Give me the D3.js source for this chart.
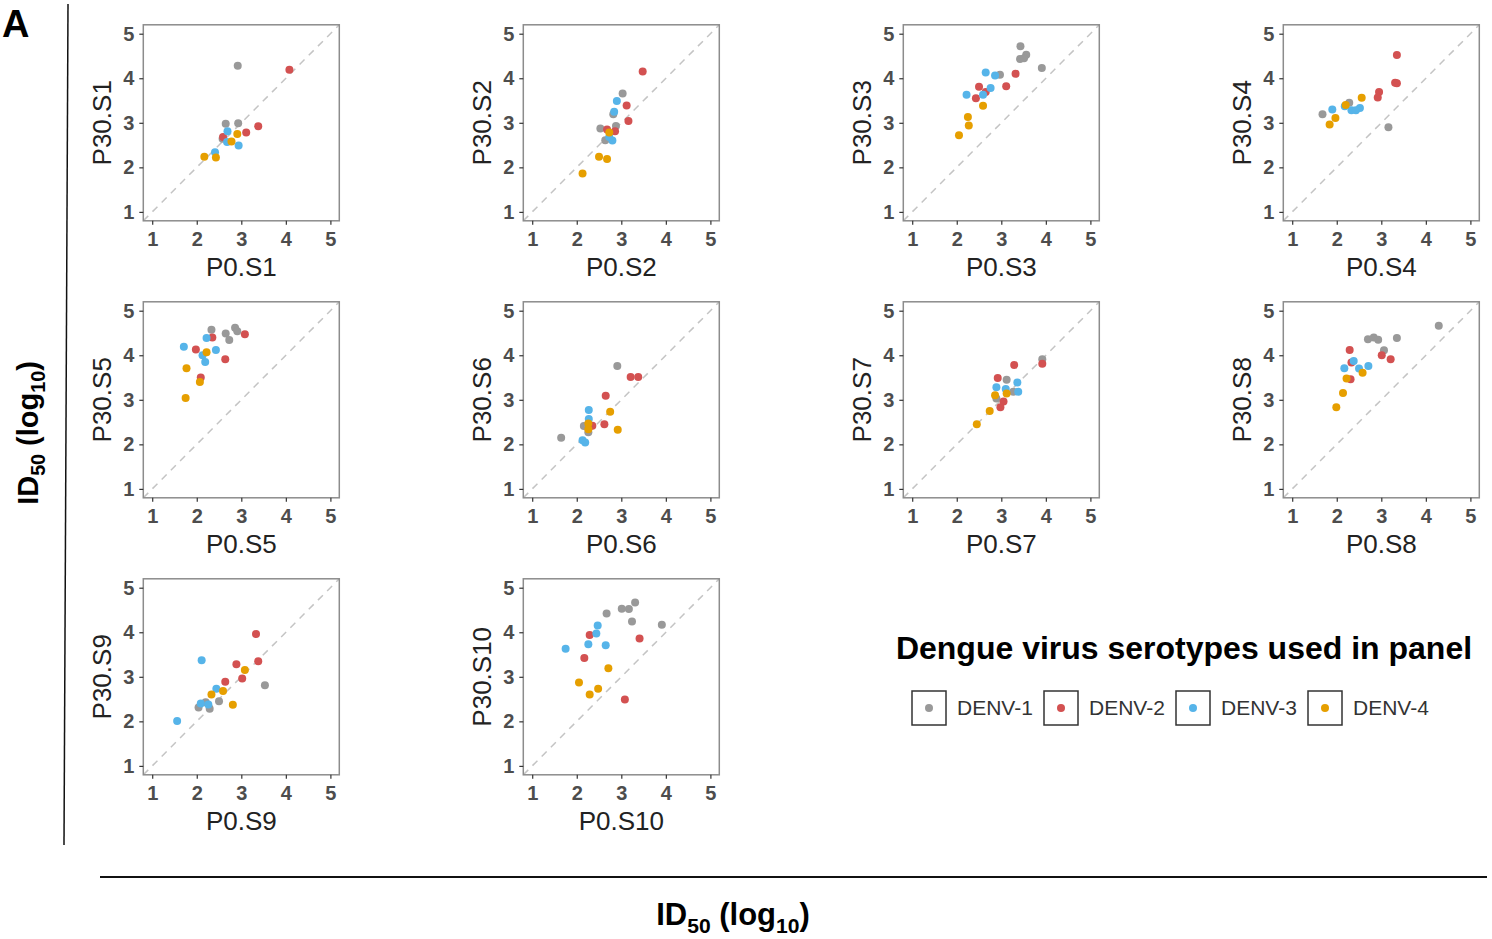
<!DOCTYPE html>
<html>
<head>
<meta charset="utf-8">
<script src="https://cdn.jsdelivr.net/npm/d3@7"></script>
<style>
	body { margin: 0; background: #fff; }
	svg { font-family: 'Liberation Sans', Arial, sans-serif; }
</style>
</head>
<body>
<div id="chart"></div>
<script>
// serotypes + colours
const serotypes = ['DENV-1', 'DENV-2', 'DENV-3', 'DENV-4'];
const seroColors = ['#999999', '#D35151', '#56B4E9', '#E69F00'];

const panelNames = ['S1', 'S2', 'S3', 'S4', 'S5', 'S6', 'S7', 'S8', 'S9', 'S10'];
const axisTicks = [1, 2, 3, 4, 5];

// [serotype index, P0 value, P30 value]
const s1 = [
	[0, 2.92, 4.28], [0, 2.65, 2.98], [0, 2.93, 2.99], [0, 2.58, 2.64],
	[1, 4.08, 4.19], [1, 3.38, 2.92], [1, 3.11, 2.78], [1, 2.59, 2.68],
	[2, 2.69, 2.81], [2, 2.68, 2.57], [2, 2.94, 2.49], [2, 2.41, 2.34],
	[3, 2.91, 2.75], [3, 2.78, 2.58], [3, 2.17, 2.24], [3, 2.43, 2.22],
];
const s2 = [
	[0, 3.03, 3.66], [0, 2.82, 3.19], [0, 2.88, 2.93], [0, 2.53, 2.87], [0, 2.64, 2.61],
	[1, 3.48, 4.15], [1, 3.12, 3.39], [1, 3.16, 3.04], [1, 2.86, 2.81], [1, 2.68, 2.85],
	[2, 2.9, 3.49], [2, 2.84, 3.25], [2, 2.8, 2.6], [2, 2.73, 2.68],
	[3, 2.73, 2.78], [3, 2.5, 2.24], [3, 2.68, 2.19], [3, 2.13, 1.86],
];
const s3 = [
	[0, 3.43, 4.72], [0, 3.56, 4.53], [0, 3.51, 4.45], [0, 3.42, 4.43], [0, 3.91, 4.23], [0, 2.97, 4.08],
	[1, 3.32, 4.1], [1, 3.11, 3.82], [1, 2.5, 3.81], [1, 2.65, 3.69], [1, 2.43, 3.55],
	[2, 2.65, 4.13], [2, 2.86, 4.06], [2, 2.76, 3.78], [2, 2.22, 3.63], [2, 2.59, 3.63],
	[3, 2.59, 3.38], [3, 2.25, 3.13], [3, 2.27, 2.94], [3, 2.05, 2.72],
];
const s4 = [
	[0, 1.68, 3.19], [0, 2.28, 3.45], [0, 3.16, 2.9],
	[1, 3.35, 4.52], [1, 3.31, 3.9], [1, 3.35, 3.89], [1, 2.95, 3.69], [1, 2.92, 3.57],
	[2, 1.9, 3.3], [2, 2.18, 3.37], [2, 2.33, 3.28], [2, 2.52, 3.33], [2, 2.43, 3.28],
	[3, 2.56, 3.56], [3, 2.2, 3.4], [3, 1.97, 3.11], [3, 1.84, 2.96],
];
const s5 = [
	[0, 2.33, 4.57], [0, 2.86, 4.62], [0, 2.91, 4.54], [0, 2.65, 4.49], [0, 2.73, 4.34],
	[1, 3.08, 4.47], [1, 2.35, 4.4], [1, 1.98, 4.13], [1, 2.64, 3.91], [1, 2.09, 3.5],
	[2, 1.71, 4.19], [2, 2.22, 4.39], [2, 2.43, 4.12], [2, 2.13, 4.0], [2, 2.19, 3.85],
	[3, 2.22, 4.07], [3, 1.77, 3.71], [3, 2.07, 3.4], [3, 1.75, 3.04],
];
const s6 = [
	[0, 2.91, 3.76], [0, 1.65, 2.15], [0, 2.16, 2.41], [0, 2.26, 2.27],
	[1, 3.21, 3.51], [1, 3.38, 3.51], [1, 2.65, 3.09], [1, 2.62, 2.45], [1, 2.35, 2.42],
	[2, 2.27, 2.77], [2, 2.27, 2.57], [2, 2.13, 2.09], [2, 2.19, 2.04],
	[3, 2.75, 2.73], [3, 2.26, 2.47], [3, 2.26, 2.34], [3, 2.92, 2.33],
];
const s7 = [
	[0, 3.92, 3.91], [0, 3.12, 3.45], [0, 2.89, 3.03], [0, 3.27, 3.18],
	[1, 3.29, 3.78], [1, 3.92, 3.81], [1, 2.92, 3.49], [1, 3.05, 2.96], [1, 2.98, 2.83],
	[2, 3.36, 3.39], [2, 2.89, 3.28], [2, 3.38, 3.18], [2, 3.1, 3.24],
	[3, 2.86, 3.1], [3, 3.12, 3.14], [3, 2.74, 2.75], [3, 2.45, 2.45],
];
const s8 = [
	[0, 4.29, 4.66], [0, 2.7, 4.36], [0, 2.83, 4.4], [0, 2.93, 4.35], [0, 3.35, 4.39], [0, 3.06, 4.11],
	[1, 2.29, 4.12], [1, 3.01, 4.0], [1, 3.21, 3.91], [1, 2.33, 3.84], [1, 2.31, 3.46],
	[2, 2.38, 3.87], [2, 2.17, 3.71], [2, 2.5, 3.7], [2, 2.71, 3.76],
	[3, 2.58, 3.61], [3, 2.22, 3.48], [3, 2.14, 3.15], [3, 1.99, 2.83],
];
const s9 = [
	[0, 3.53, 2.81], [0, 2.5, 2.45], [0, 2.04, 2.31], [0, 2.29, 2.28], [0, 2.2, 2.43],
	[1, 3.33, 3.96], [1, 3.38, 3.35], [1, 2.89, 3.28], [1, 3.02, 2.96], [1, 2.64, 2.89],
	[2, 2.11, 3.37], [2, 2.44, 2.73], [2, 2.09, 2.4], [2, 2.26, 2.38], [2, 1.56, 2.01],
	[3, 3.08, 3.15], [3, 2.59, 2.68], [3, 2.33, 2.6], [3, 2.81, 2.37],
];
const s10 = [
	[0, 3.31, 4.67], [0, 3.01, 4.53], [0, 3.17, 4.52], [0, 2.67, 4.42], [0, 3.24, 4.24], [0, 3.91, 4.17],
	[1, 2.29, 3.94], [1, 3.41, 3.86], [1, 2.17, 3.42], [1, 3.08, 2.49],
	[2, 2.47, 4.15], [2, 2.44, 3.97], [2, 2.26, 3.73], [2, 2.65, 3.71], [2, 1.75, 3.63],
	[3, 2.71, 3.19], [3, 2.05, 2.87], [3, 2.48, 2.73], [3, 2.29, 2.6],
];
const panelData = [s1, s2, s3, s4, s5, s6, s7, s8, s9, s10];

const width = 1492;
const height = 939;
const panelSize = 196;
const colLeft = [143.3, 523.3, 903.3, 1283.3];
const rowTop = [24.8, 301.8, 578.8];

const svg = d3
	.select('#chart')
	.append('svg')
	.attr('width', width)
	.attr('height', height);

const x = d3.scaleLinear().domain([0.8, 5.2]).range([0, panelSize]);
const y = d3.scaleLinear().domain([0.8, 5.2]).range([panelSize, 0]);

panelNames.forEach((name, i) => {
	const left = colLeft[i % 4];
	const top = rowTop[Math.floor(i / 4)];
	const g = svg.append('g').attr('transform', `translate(${left},${top})`);

	// diagonal reference
	g.append('line')
		.attr('x1', x(0.8))
		.attr('y1', y(0.8))
		.attr('x2', x(5.2))
		.attr('y2', y(5.2))
		.attr('stroke', '#c4c4c4')
		.attr('stroke-width', 1.5)
		.attr('stroke-dasharray', '7,6');

	g.selectAll('circle')
		.data(panelData[i])
		.join('circle')
		.attr('cx', (d) => x(d[1]))
		.attr('cy', (d) => y(d[2]))
		.attr('r', 4)
		.attr('fill', (d) => seroColors[d[0]]);

	g.append('rect')
		.attr('width', panelSize)
		.attr('height', panelSize)
		.attr('fill', 'none')
		.attr('stroke', '#8c8c8c')
		.attr('stroke-width', 1.5);

	const xAxisG = g
		.append('g')
		.attr('transform', `translate(0,${panelSize})`)
		.call(
			d3.axisBottom(x).tickValues(axisTicks).tickFormat(d3.format('d')).tickSize(4).tickPadding(7)
		);
	const yAxisG = g
		.append('g')
		.call(
			d3.axisLeft(y).tickValues(axisTicks).tickFormat(d3.format('d')).tickSize(4).tickPadding(5)
		);

	[xAxisG, yAxisG].forEach((a) => {
		a.select('.domain').remove();
		a.selectAll('.tick line').attr('stroke', '#333').attr('stroke-width', 1.2);
		a.selectAll('.tick text')
			.attr('fill', '#4d4d4d')
			.style('font-size', '20px')
			.style('font-weight', 'bold')
			.style('font-family', "'Liberation Sans', Arial, sans-serif");
	});

	g.append('text')
		.attr('x', panelSize / 2)
		.attr('y', panelSize + 55)
		.attr('text-anchor', 'middle')
		.attr('fill', '#222')
		.style('font-size', '26px')
		.text('P0.' + name);

	g.append('text')
		.attr('transform', `translate(-32,${panelSize / 2}) rotate(-90)`)
		.attr('text-anchor', 'middle')
		.attr('fill', '#222')
		.style('font-size', '26px')
		.text('P30.' + name);
});

// legend
const legend = svg.append('g');
legend
	.append('text')
	.attr('x', 1184)
	.attr('y', 659)
	.attr('text-anchor', 'middle')
	.style('font-size', '32px')
	.style('font-weight', 'bold')
	.text('Dengue virus serotypes used in panel');

const keyLeft = [912, 1044, 1176, 1308];
serotypes.forEach((s, i) => {
	const k = legend.append('g').attr('transform', `translate(${keyLeft[i]},691)`);
	k.append('rect')
		.attr('width', 34)
		.attr('height', 34)
		.attr('fill', '#fff')
		.attr('stroke', '#333')
		.attr('stroke-width', 1.5);
	k.append('circle')
		.attr('cx', 17)
		.attr('cy', 17)
		.attr('r', 4)
		.attr('fill', seroColors[i]);
	k.append('text')
		.attr('x', 45)
		.attr('y', 24)
		.attr('fill', '#333')
		.style('font-size', '21px')
		.text(s);
});

// outer decorations
svg.append('text')
	.attr('x', 2)
	.attr('y', 37)
	.style('font-size', '38px')
	.style('font-weight', 'bold')
	.text('A');

svg.append('line')
	.attr('x1', 68)
	.attr('y1', 4)
	.attr('x2', 64)
	.attr('y2', 845)
	.attr('stroke', '#111')
	.attr('stroke-width', 1.5);

svg.append('line')
	.attr('x1', 100)
	.attr('y1', 877)
	.attr('x2', 1487)
	.attr('y2', 877)
	.attr('stroke', '#111')
	.attr('stroke-width', 2);

function idLabel(sel, size) {
	sel.style('font-size', size + 'px').style('font-weight', 'bold');
	sel.append('tspan').text('ID');
	sel.append('tspan')
		.attr('dy', size * 0.25)
		.style('font-size', size * 0.68 + 'px')
		.text('50');
	sel.append('tspan').attr('dy', -size * 0.25).text(' (log');
	sel.append('tspan')
		.attr('dy', size * 0.25)
		.style('font-size', size * 0.68 + 'px')
		.text('10');
	sel.append('tspan').attr('dy', -size * 0.25).text(')');
}

svg.append('text')
	.attr('transform', 'translate(38,433) rotate(-90)')
	.attr('text-anchor', 'middle')
	.call(idLabel, 29);

svg.append('text')
	.attr('x', 733)
	.attr('y', 925)
	.attr('text-anchor', 'middle')
	.call(idLabel, 31);
</script>
</body>
</html>
